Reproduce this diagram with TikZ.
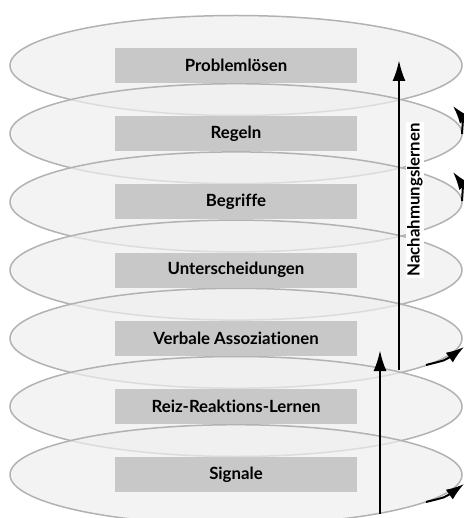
\documentclass[tikz,border=0pt]{standalone}
\usepackage{fontspec}
\setmainfont{Lato}[Ligatures=NoCommon]
\usepackage{tikz}
\usetikzlibrary{arrows.meta,shapes.geometric,positioning}

\definecolor{ringgray}{RGB}{178,178,178}
\definecolor{ringfill}{RGB}{238,238,238}
\definecolor{boxgray}{RGB}{200,200,200}

\begin{document}
\begin{tikzpicture}
                    [x=1pt, y=-1pt, every node/.style={font=\bfseries\fontsize{16.8}{19}\selectfont}]
                    \tikzset{layer/.style = {ellipse, draw=ringgray, line width=1.5pt, fill=ringfill, fill opacity=0.7,
                                             minimum width=452pt, minimum height=100pt, inner sep=0pt},
                             stage/.style = {fill=boxgray, minimum width=242pt, minimum height=35pt, inner sep=0pt},
                             edge/.style  = {line width=2.6pt, -{Latex[length=21pt,width=13pt]}},
                             turn/.style  = {line width=2pt, -{Latex[length=18pt,width=12pt]}}}
                    \useasboundingbox (0,0) rectangle (463,518);

                    % Schichten
                    \foreach \i in {1,...,7}
                        \node[layer] (l\i) at (236, 65.5+68.2*\i-68.2) {};
                    \foreach \i/\txt in {1/Problemlösen,2/Regeln,3/Begriffe,4/Unterscheidungen,
                                         5/Verbale Assoziationen,6/Reiz-Reaktions-Lernen,7/Signale}
                        \node[stage] (b\i) at (l\i) {\txt};

                    % Pfeile
                    \coordinate (n0) at (399,370);
                    \coordinate (n1) at (399,60);
                    \coordinate (s0) at (380,514);
                    \coordinate (s1) at (380,350);
                    \draw[edge] (n0) -- (n1);
                    \draw[edge] (s0) -- (s1);
                    \node[fill=white, inner sep=1.5pt, rotate=90] (nach) at (415,200) {Nachahmungslernen};

                    \coordinate (r1a) at (462,134);
                    \coordinate (r1b) at (453,106);
                    \coordinate (r2a) at (462,201);
                    \coordinate (r2b) at (453,172);
                    \coordinate (r3a) at (426,365);
                    \coordinate (r3b) at (464,347);
                    \coordinate (r4a) at (426,502);
                    \coordinate (r4b) at (464,484);
                    \draw[turn] (r1a) .. controls (463,118) .. (r1b);
                    \draw[turn] (r2a) .. controls (463,185) .. (r2b);
                    \draw[turn] (r3a) .. controls (446,360) .. (r3b);
                    \draw[turn] (r4a) .. controls (446,497) .. (r4b);
                \end{tikzpicture}
\end{document}
